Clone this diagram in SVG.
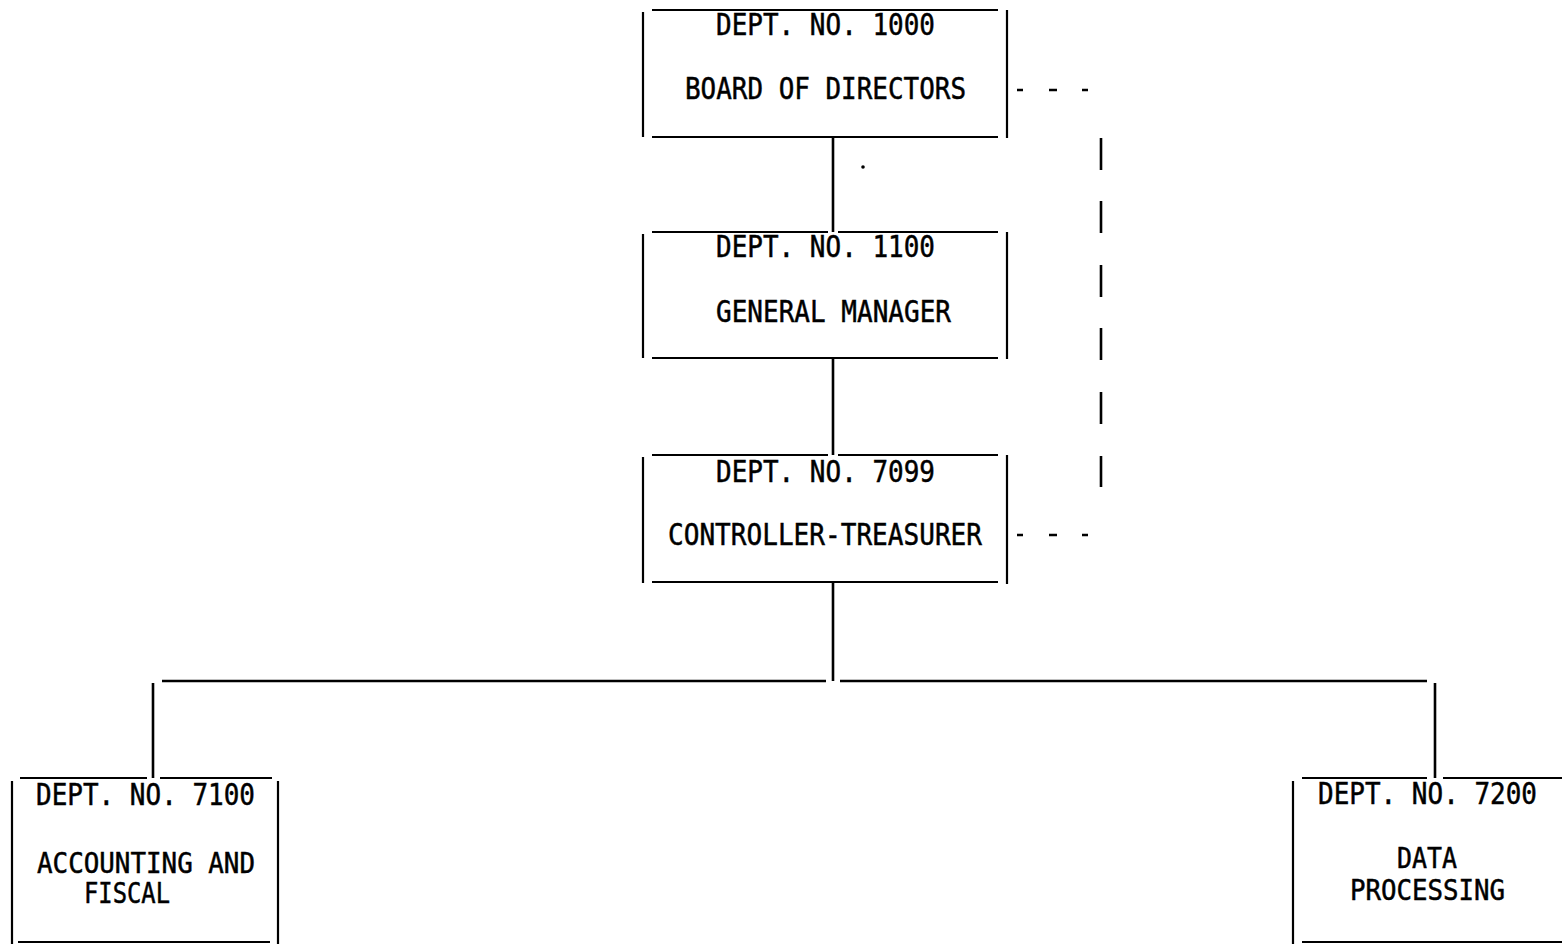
<svg xmlns="http://www.w3.org/2000/svg" width="1562" height="944" viewBox="0 0 1562 944">
<style>
.b{stroke:#000;stroke-width:2.2;fill:none}
.c{stroke:#000;stroke-width:2.6;fill:none}
.d{stroke:#000;stroke-width:2.6;fill:none}
text{font-family:"DejaVu Sans Mono","Liberation Mono",monospace;font-size:30px;fill:#000;stroke:#000;stroke-width:0.5}
.t{font-size:28px}
</style>
<rect width="1562" height="944" fill="#fff"/>
<g id="node-1000">
<path class="b" d="M652 10H998M643 12V137M1007 10V138M652 137H998"/>
<text x="716" y="35" textLength="219" lengthAdjust="spacingAndGlyphs">DEPT. NO. 1000</text>
<text x="685" y="99" textLength="281" lengthAdjust="spacingAndGlyphs">BOARD OF DIRECTORS</text>
</g>
<g id="node-1100">
<path class="b" d="M652 232H828M838 232H998M643 234V358M1007 232V359M652 358H998"/>
<text x="716" y="257" textLength="219" lengthAdjust="spacingAndGlyphs">DEPT. NO. 1100</text>
<text x="716" y="322" textLength="235" lengthAdjust="spacingAndGlyphs">GENERAL MANAGER</text>
</g>
<g id="node-7099">
<path class="b" d="M652 455H828M838 455H998M643 457V583M1007 455V584M652 582H998"/>
<text x="716" y="482" textLength="219" lengthAdjust="spacingAndGlyphs">DEPT. NO. 7099</text>
<text x="668" y="545" textLength="314" lengthAdjust="spacingAndGlyphs">CONTROLLER-TREASURER</text>
</g>
<g id="node-7100">
<path class="b" d="M20 778H147M160 778H272M12 781V944M278 781V944M18 942H270"/>
<text x="36" y="805" textLength="219" lengthAdjust="spacingAndGlyphs">DEPT. NO. 7100</text>
<text class="t" x="37" y="873" textLength="218" lengthAdjust="spacingAndGlyphs">ACCOUNTING AND</text>
<text class="t" x="84" y="903" textLength="86" lengthAdjust="spacingAndGlyphs">FISCAL</text>
</g>
<g id="node-7200">
<path class="b" d="M1302 778H1427M1443 778H1562M1293 781V944M1302 942H1562"/>
<text x="1318" y="804" textLength="219" lengthAdjust="spacingAndGlyphs">DEPT. NO. 7200</text>
<text class="t" x="1397" y="868" textLength="60" lengthAdjust="spacingAndGlyphs">DATA</text>
<text class="t" x="1350" y="900" textLength="155" lengthAdjust="spacingAndGlyphs">PROCESSING</text>
</g>
<g id="connectors">
<path class="c" d="M833 137V232M833 359V455M833 583V681M162 681H826M840 681H1427M153 683V778M1435 683V778"/>
<path class="d" d="M1017 90H1023M1049 90H1057M1082 90H1088M1017 535H1023M1049 535H1057M1082 535H1088"/>
<path class="d" d="M1101 138V170M1101 201V233M1101 265V297M1101 328V360M1101 392V424M1101 456V487"/>
<circle cx="863" cy="167" r="1.8" fill="#000"/>
</g>
</svg>
